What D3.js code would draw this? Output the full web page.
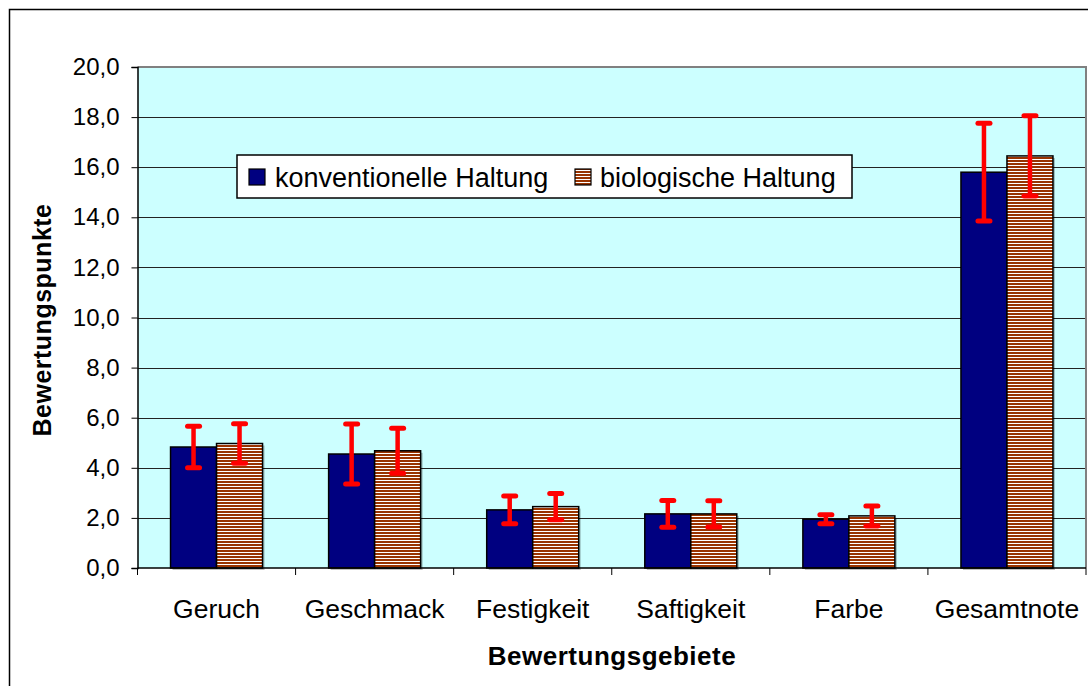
<!DOCTYPE html>
<html><head><meta charset="utf-8">
<script src="https://cdn.jsdelivr.net/npm/d3@7"></script>
<style>body{margin:0;background:#fff;} svg{display:block;font-family:"Liberation Sans",Arial,sans-serif;}</style>
</head><body>
<svg id="c" width="1088" height="686"></svg>
<script>
const categories = ["Geruch","Geschmack","Festigkeit","Saftigkeit","Farbe","Gesamtnote"];
const seriesNames = ["konventionelle Haltung","biologische Haltung"];
const konvValues = [4.83, 4.55, 2.32, 2.16, 1.95, 15.8];
const konvErrors = [0.83, 1.2, 0.55, 0.53, 0.18, 1.95];
const bioValues  = [4.97, 4.68, 2.45, 2.16, 2.08, 16.45];
const bioErrors  = [0.79, 0.9, 0.52, 0.52, 0.4, 1.6];
const yTicks = [0,2,4,6,8,10,12,14,16,18,20];

const svg = d3.select("#c");
const plot = {l:137.5, r:1086, t:67, b:568};

svg.append("rect").attr("x",9.5).attr("y",9.5).attr("width",1100).attr("height",700)
  .attr("fill","#fff").attr("stroke","#000").attr("stroke-width",1.5);

const defs = svg.append("defs");
const pat = defs.append("pattern").attr("id","hatch").attr("patternUnits","userSpaceOnUse")
  .attr("width",8).attr("height",3);
pat.append("rect").attr("width",8).attr("height",3).attr("fill","#fff");
pat.append("rect").attr("y",1).attr("width",8).attr("height",2).attr("fill","#993300");

const y = d3.scaleLinear().domain([0,20]).range([plot.b, plot.t]);
const x0 = d3.scaleBand().domain(categories).range([plot.l, plot.r]).padding(0);
const pairW = 92;
const x1 = d3.scaleBand().domain(seriesNames).range([0, pairW]).padding(0);

svg.append("rect").attr("x",plot.l).attr("y",plot.t).attr("width",plot.r-plot.l).attr("height",plot.b-plot.t)
  .attr("fill","#CCFFFF");

svg.append("g").selectAll("line").data(yTicks.filter(d=>d>0 && d<20)).join("line")
  .attr("x1",plot.l).attr("x2",plot.r)
  .attr("y1",d=>Math.round(y(d))+0.5).attr("y2",d=>Math.round(y(d))+0.5)
  .attr("stroke","#222").attr("stroke-width",1);

svg.append("path").attr("d",`M${plot.l},${plot.t} H${plot.r} V${plot.b}`)
  .attr("fill","none").attr("stroke","#808080").attr("stroke-width",2);

const series = [
  {name:seriesNames[0], values:konvValues, errors:konvErrors, fill:"#000080"},
  {name:seriesNames[1], values:bioValues, errors:bioErrors, fill:"url(#hatch)"}
];

const groups = svg.append("g").selectAll("g").data(categories).join("g")
  .attr("transform",d=>`translate(${x0(d)+x0.bandwidth()/2-pairW/2},0)`);

series.forEach(s=>{
  groups.append("rect")
    .attr("x",()=>x1(s.name)+2).attr("y",(d,i)=>y(s.values[i])+2)
    .attr("width",x1.bandwidth()).attr("height",(d,i)=>y(0)-y(s.values[i]))
    .attr("fill","#000").attr("opacity",0.25);
});
series.forEach(s=>{
  groups.append("rect")
    .attr("x",()=>x1(s.name)).attr("y",(d,i)=>y(s.values[i]))
    .attr("width",x1.bandwidth()).attr("height",(d,i)=>y(0)-y(s.values[i]))
    .attr("fill",s.fill).attr("stroke","#000").attr("stroke-width",1.5);
});
series.forEach(s=>{
  const cx = x1(s.name)+x1.bandwidth()/2;
  const eb = groups.append("g");
  eb.append("line").attr("x1",cx).attr("x2",cx)
    .attr("y1",(d,i)=>y(s.values[i]+s.errors[i])).attr("y2",(d,i)=>y(s.values[i]-s.errors[i]))
    .attr("stroke","#FF0000").attr("stroke-width",4.5);
  [1,-1].forEach(sg=>{
    eb.append("line").attr("x1",cx-6).attr("x2",cx+6)
      .attr("y1",(d,i)=>y(s.values[i]+sg*s.errors[i])).attr("y2",(d,i)=>y(s.values[i]+sg*s.errors[i]))
      .attr("stroke","#FF0000").attr("stroke-width",5).attr("stroke-linecap","round");
  });
});

const yAxis = d3.axisLeft(y).tickValues(yTicks).tickSize(6).tickPadding(12)
  .tickFormat(d=>d3.format(".1f")(d).replace(".",","));
const ga = svg.append("g").attr("transform",`translate(${plot.l},0)`).call(yAxis);
ga.select(".domain").attr("stroke","#000").attr("stroke-width",1.5);
ga.selectAll(".tick line").attr("stroke","#000");
ga.selectAll(".tick text").attr("font-size",24).attr("fill","#000")
  .attr("font-family","Liberation Sans, Arial, sans-serif");

const gx = svg.append("g").attr("transform",`translate(0,${plot.b})`);
gx.append("line").attr("x1",plot.l).attr("x2",plot.r).attr("stroke","#000").attr("stroke-width",1.5);
const bounds = categories.map(c=>x0(c)).concat([plot.r]);
gx.selectAll("line.tk").data(bounds).join("line").attr("class","tk")
  .attr("x1",d=>d).attr("x2",d=>d).attr("y1",0).attr("y2",7).attr("stroke","#000");
gx.selectAll("text").data(categories).join("text")
  .attr("x",d=>x0(d)+x0.bandwidth()/2).attr("y",50)
  .attr("text-anchor","middle").attr("font-size",26.5).text(d=>d);

svg.append("text").attr("x",612).attr("y",665).attr("text-anchor","middle")
  .attr("font-size",26).attr("font-weight","bold").attr("letter-spacing",0.5).text("Bewertungsgebiete");
svg.append("text").attr("transform","translate(51,320) rotate(-90)").attr("text-anchor","middle")
  .attr("font-size",25).attr("font-weight","bold").attr("letter-spacing",0.5).text("Bewertungspunkte");

const lg = svg.append("g").attr("transform","translate(237,155)");
lg.append("rect").attr("width",615).attr("height",43).attr("fill","#fff").attr("stroke","#000").attr("stroke-width",1.5);
const items = [{name:seriesNames[0], fill:"#000080", sx:12, tx:38},{name:seriesNames[1], fill:"url(#hatch)", sx:338, tx:363}];
items.forEach(it=>{
  lg.append("rect").attr("x",it.sx).attr("y",14).attr("width",16).attr("height",16)
    .attr("fill",it.fill).attr("stroke","#000").attr("stroke-width",1.2);
  lg.append("text").attr("x",it.tx).attr("y",32).attr("font-size",27).text(it.name);
});
</script>
</body></html>
